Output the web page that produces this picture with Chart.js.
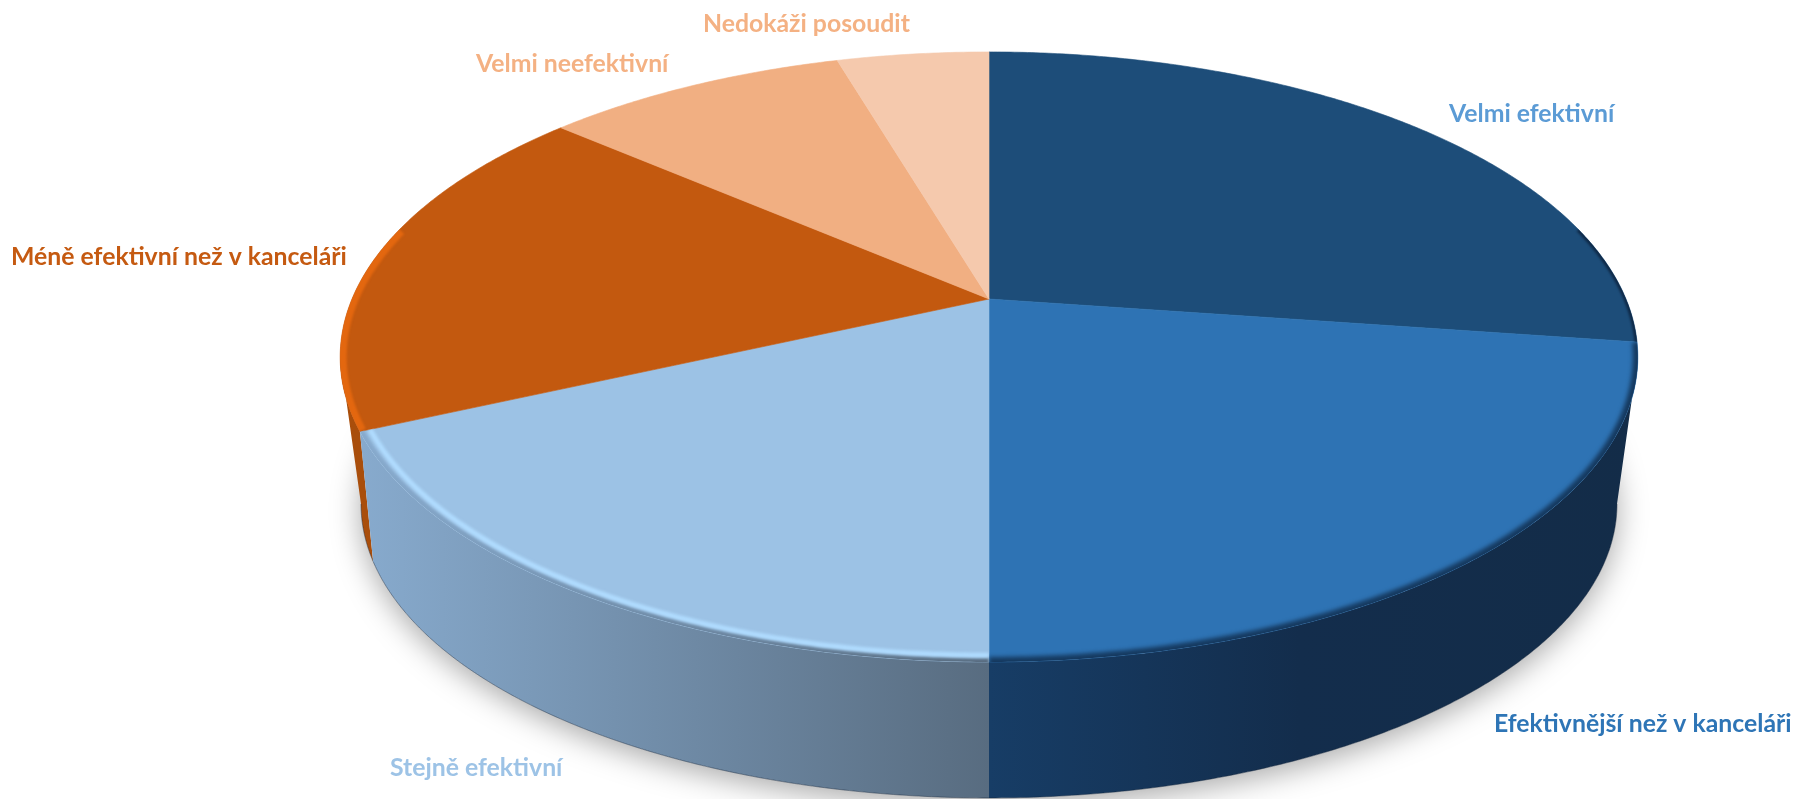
<!DOCTYPE html>
<html>
<head>
<meta charset="utf-8">
<style>
  html, body { margin: 0; padding: 0; background: #fff; }
  #wrap { width: 1795px; height: 799px; overflow: hidden; }
</style>
<script src="https://cdn.jsdelivr.net/npm/chart.js@4"></script>
</head>
<body>
<div id="wrap"><canvas id="pie" width="1795" height="799"></canvas></div>
<script>
// ---------- Data ----------
const categories = ['Velmi efektivní', 'Efektivnější než v kanceláři', 'Stejně efektivní',
  'Méně efektivní než v kanceláři', 'Velmi neefektivní', 'Nedokáži posoudit'];
const counts = [6, 5, 4, 4, 2, 1];

// ---------- Styles ----------
const topColors = ['#1d4d79', '#2e73b4', '#9cc2e5', '#c3590f', '#f1af82', '#f5c9ad'];
const labelColors = ['#5b9bd5', '#2e75b6', '#9dc3e6', '#c55a11', '#f4b183', '#f4b183'];
const wallStops = [
  null,
  [[989, '#173d66'], [1300, '#132d4c'], [1640, '#132c48']],
  [[362, '#87aacd'], [989, '#586c80']],
  [[340, '#a94e0b'], [380, '#a94e0b']],
  null, null
];
const labelSpots = [[1449, 122], [1494, 732], [390, 776], [11, 265], [476, 72], [703, 32]];
// colour, radius, width, blur; 'wall' takes the colour of the wall below
const rims = [
  [['#0f2947', 1, 5, 1.2]],
  [['#15395f', 1, 10, 2.2]],
  [['wall', 1, 9, 1.5], ['#b0dcff', 0.985, 5, 1.6]],
  [['#e3670f', 1, 13, 1.2]]
];

// ---------- Projection of the tilted disc ----------
// z = 0 is the top face, z = 1 the lower edge of the wall
const cam = { cx: 989, cy: 299, A: 637, B: 294, k: 0.19, dk: 0.06, dw: 0.0447, dB: -38.1, C: 140.6 };
function project(a, r, z) {
  const u = Math.cos(a) * r, v = Math.sin(a) * r;
  const w = 1 + cam.dw * z - (cam.k + cam.dk * z) * v;
  return [cam.cx + cam.A * u / w, cam.cy + ((cam.B + cam.dB * z) * v + cam.C * z) / w];
}
function arcPoints(a0, a1, r, z) {
  const pts = [], n = Math.max(2, Math.ceil(Math.abs(a1 - a0) / 0.008));
  for (let i = 0; i <= n; i++) pts.push(project(a0 + (a1 - a0) * i / n, r, z));
  return pts;
}
function trace(ctx, pts, close) {
  ctx.beginPath();
  pts.forEach((p, i) => i ? ctx.lineTo(p[0], p[1]) : ctx.moveTo(p[0], p[1]));
  if (close) ctx.closePath();
}
// part of a slice between the far left and far right of a ring
function clampArc(a0, a1, edge) {
  const s = Math.max(a0, edge), e = Math.min(a1, Math.PI - edge);
  return s < e ? [s, e] : null;
}
function wallPaint(ctx, i) {
  const stops = wallStops[i];
  const x0 = stops[0][0], x1 = stops[stops.length - 1][0];
  const g = ctx.createLinearGradient(x0, 0, x1, 0);
  stops.forEach((s) => g.addColorStop((s[0] - x0) / (x1 - x0), s[1]));
  return g;
}

const tiltedPie = {
  id: 'tiltedPie',
  beforeDatasetDraw(chart, args) {
    const ctx = chart.ctx;
    const arcs = args.meta.data;

    // soft shadow below the disc
    ctx.save();
    ctx.shadowColor = 'rgba(0,0,0,0.34)';
    ctx.shadowBlur = 30;
    ctx.shadowOffsetY = 7;
    ctx.fillStyle = '#fff';
    trace(ctx, arcPoints(0, Math.PI * 2, 1, 1), true);
    ctx.fill();
    ctx.restore();

    // walls
    const topEdge = Math.asin(cam.k);
    const lowEdge = Math.asin((cam.k + cam.dk) / (1 + cam.dw));
    [3, 1, 2].forEach((i) => {
      const up = clampArc(arcs[i].startAngle, arcs[i].endAngle, topEdge);
      const low = clampArc(arcs[i].startAngle, arcs[i].endAngle, lowEdge);
      ctx.fillStyle = wallPaint(ctx, i);
      trace(ctx, arcPoints(up[0], up[1], 1, 0).concat(arcPoints(low[1], low[0], 1, 1)), true);
      ctx.fill();
      ctx.strokeStyle = 'rgba(20,35,55,0.45)';
      ctx.lineWidth = 1;
      trace(ctx, arcPoints(low[0], low[1], 1, 1));
      ctx.stroke();
    });

    // top faces
    arcs.forEach((arc, i) => {
      ctx.fillStyle = topColors[i];
      trace(ctx, [[cam.cx, cam.cy]].concat(arcPoints(arc.startAngle, arc.endAngle, 1, 0)), true);
      ctx.fill();
      ctx.strokeStyle = topColors[i];
      ctx.lineWidth = 0.6;
      ctx.stroke();
    });

    // bevel along the front rim
    rims.forEach((list, i) => {
      const arc = arcs[i];
      const s = Math.max(arc.startAngle, -0.25), e = Math.min(arc.endAngle, Math.PI + 0.25);
      ctx.save();
      trace(ctx, [[cam.cx, cam.cy]].concat(arcPoints(arc.startAngle, arc.endAngle, 1, 0)), true);
      ctx.clip();
      list.forEach((rim) => {
        ctx.filter = 'blur(' + rim[3] + 'px)';
        ctx.strokeStyle = rim[0] === 'wall' ? wallPaint(ctx, i) : rim[0];
        ctx.lineWidth = rim[2];
        trace(ctx, arcPoints(s, e, rim[1], 0));
        ctx.stroke();
      });
      ctx.restore();
    });

    // labels
    ctx.save();
    ctx.font = 'bold 24.8px Lato';
    ctx.textAlign = 'left';
    ctx.textBaseline = 'alphabetic';
    chart.data.labels.forEach((label, i) => {
      ctx.fillStyle = labelColors[i];
      ctx.fillText(label, labelSpots[i][0], labelSpots[i][1]);
    });
    ctx.restore();

    return false; // slices are painted above
  }
};

new Chart(document.getElementById('pie').getContext('2d'), {
  type: 'pie',
  data: {
    labels: categories,
    datasets: [{ data: counts, backgroundColor: topColors, borderWidth: 0 }]
  },
  options: {
    responsive: false,
    devicePixelRatio: 1,
    animation: false,
    plugins: { legend: { display: false }, tooltip: { enabled: false } }
  },
  plugins: [tiltedPie]
});
</script>
</body>
</html>
